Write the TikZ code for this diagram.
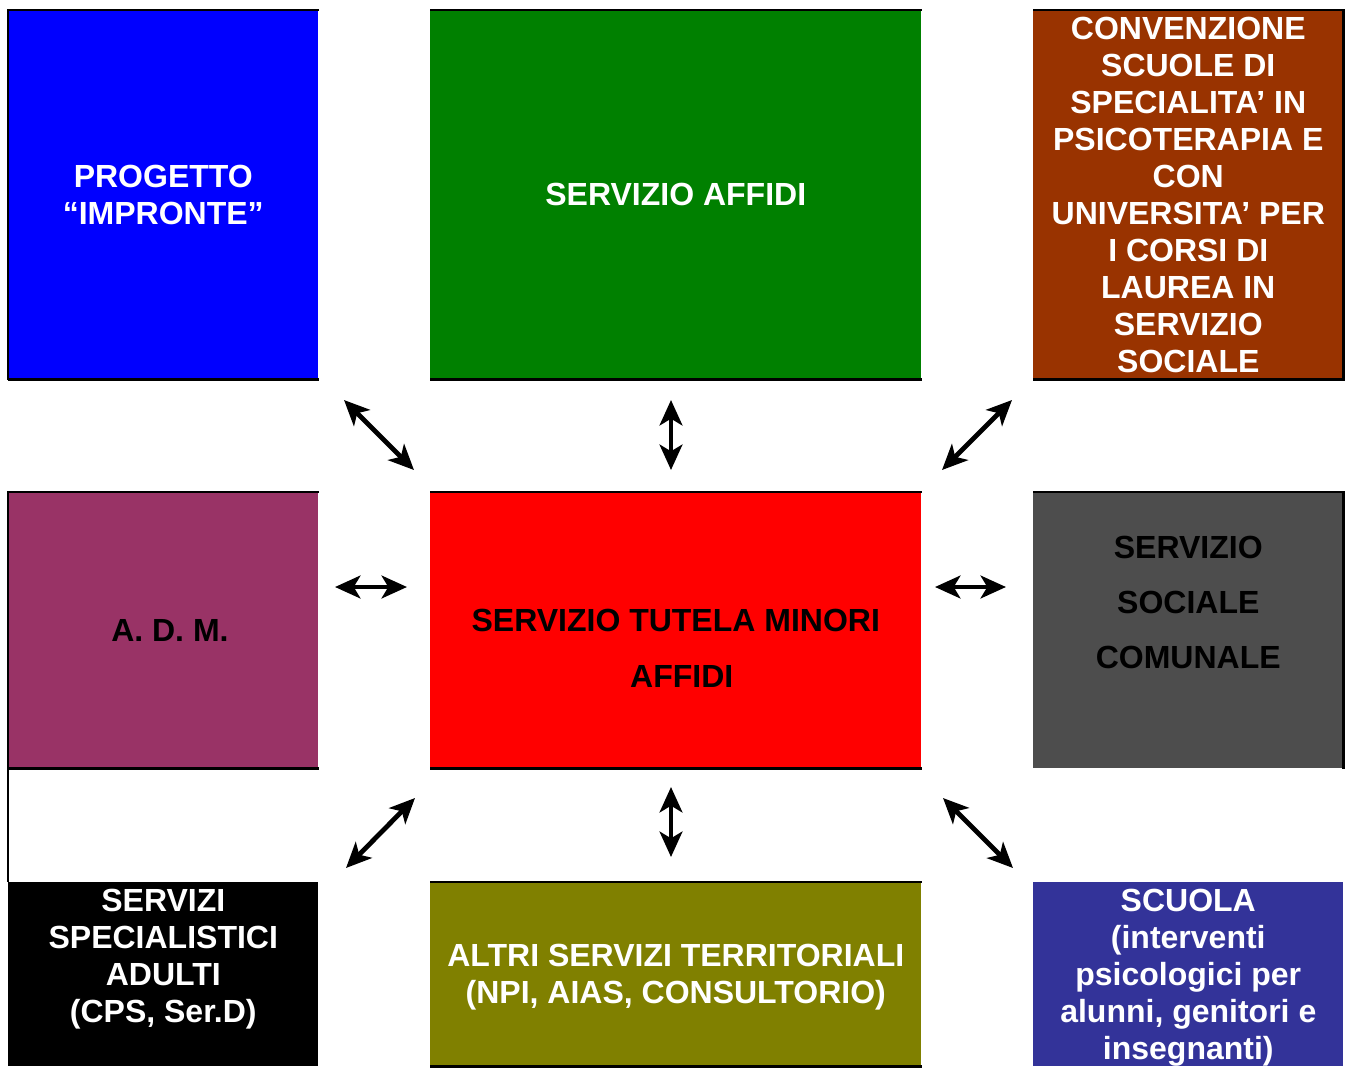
\documentclass[tikz,border=0pt]{standalone}
\usepackage{fontspec}
\setmainfont{Liberation Sans}
\usetikzlibrary{arrows.meta}

\definecolor{cblue}{HTML}{0000FF}
\definecolor{cgreen}{HTML}{008000}
\definecolor{cbrown}{HTML}{993300}
\definecolor{cplum}{HTML}{993366}
\definecolor{cred}{HTML}{FF0000}
\definecolor{cgray}{HTML}{4D4D4D}
\definecolor{colive}{HTML}{808000}
\definecolor{cindigo}{HTML}{333399}

\begin{document}
\begin{tikzpicture}[x=0.75pt, y=-0.75pt,
  box/.style={rectangle, inner sep=0pt, anchor=north west, align=center,
    font=\fontsize{24}{27.75}\selectfont\bfseries, text=white},
  caption/.style={inner sep=0pt, align=center,
    font=\fontsize{24}{27.75}\selectfont\bfseries},
  narrow/.style={minimum width={310*0.75pt}},
  wide/.style={minimum width={491*0.75pt}},
  tall/.style={minimum height={369*0.75pt}},
  mid/.style={minimum height={276*0.75pt}},
  low/.style={minimum height={184*0.75pt}},
  edge/.style={line width=1.6pt},
  link/.style={line width=3.6pt,
    {Stealth[length=19pt,width=17pt,inset=5pt]}-{Stealth[length=19pt,width=17pt,inset=5pt]}}]

\useasboundingbox (0,0) rectangle (1350,1068);

% top row
\node[box, narrow, tall, fill=cblue] (impronte) at (8,10) {PROGETTO\\“IMPRONTE”};
\node[box, wide, tall, fill=cgreen] (affidi) at (430,10) {SERVIZIO AFFIDI};
\node[box, narrow, tall, fill=cbrown] (conv) at (1033,10)
  {CONVENZIONE\\SCUOLE DI\\SPECIALITA’ IN\\PSICOTERAPIA E\\CON\\UNIVERSITA’ PER\\I CORSI DI\\LAUREA IN\\SERVIZIO\\SOCIALE};

% middle row
\node[box, narrow, mid, fill=cplum, text=black] (adm) at (8,492) {\hspace*{10pt}A. D. M.};
\node[box, narrow, wide, mid, fill=cred,
  label={[caption, text=black, font=\fontsize{24}{42}\selectfont\bfseries,
          yshift=-13.5pt]center:SERVIZIO TUTELA MINORI\\\hspace*{9pt}AFFIDI}]
  (tutela) at (430,492) {};
\node[box, narrow, mid, fill=cgray,
  label={[caption, text=black, font=\fontsize{24}{41.25}\selectfont\bfseries,
          yshift=21pt]center:SERVIZIO\\SOCIALE\\COMUNALE}]
  (comunale) at (1033,492) {};

% bottom row
\node[box, narrow, low, fill=black,
  label={[caption, text=white, yshift=11.25pt]center:SERVIZI\\SPECIALISTICI\\ADULTI\\(CPS, Ser.D)}]
  (adulti) at (8,882) {};
\node[box, wide, low, fill=colive,
  label={[caption, text=white, yshift=-2.25pt]center:ALTRI SERVIZI TERRITORIALI\\(NPI, AIAS, CONSULTORIO)}]
  (territ) at (430,882) {};
\node[box, narrow, low, fill=cindigo,
  label={[caption, text=white, yshift=-2.25pt]center:SCUOLA\\(interventi\\psicologici per\\alunni, genitori e\\insegnanti)}]
  (scuola) at (1033,882) {};

% box outlines
\draw[edge] (impronte.south west) -- (impronte.north west) -- (impronte.north east);
\draw[edge] (impronte.south west) -- (impronte.south east);
\draw[edge] (affidi.north west) -- (affidi.north east);
\draw[edge] (affidi.south west) -- (affidi.south east);
\draw[edge] (conv.north west) -- (conv.north east) -- (conv.south east) -- (conv.south west);
\draw[edge] (adm.north east) -- (adm.north west) -- (adulti.north west);
\draw[edge] (adm.south west) -- (adm.south east);
\draw[edge] (tutela.north west) -- (tutela.north east);
\draw[edge] (tutela.south west) -- (tutela.south east);
\draw[edge] (comunale.north west) -- (comunale.north east) -- (comunale.south east);
\draw[edge] (territ.north west) -- (territ.north east);
\draw[edge] (territ.south west) -- (territ.south east);

% arrow end points
\coordinate (nwA) at (344,400);  \coordinate (nwB) at (414,470);
\coordinate (nA)  at (671,400);  \coordinate (nB)  at (671,470);
\coordinate (neA) at (1012,400); \coordinate (neB) at (942,470);
\coordinate (wA)  at (335,587);  \coordinate (wB)  at (407,587);
\coordinate (eA)  at (935,587);  \coordinate (eB)  at (1006,587);
\coordinate (swA) at (415,798);  \coordinate (swB) at (346,868);
\coordinate (sA)  at (671,787);  \coordinate (sB)  at (671,857);
\coordinate (seA) at (943,798);  \coordinate (seB) at (1013,868);

% two-way links
\draw[link] (nwA) -- (nwB);
\draw[link] (nA) -- (nB);
\draw[link] (neA) -- (neB);
\draw[link] (wA) -- (wB);
\draw[link] (eA) -- (eB);
\draw[link] (swA) -- (swB);
\draw[link] (sA) -- (sB);
\draw[link] (seA) -- (seB);
\end{tikzpicture}
\end{document}
